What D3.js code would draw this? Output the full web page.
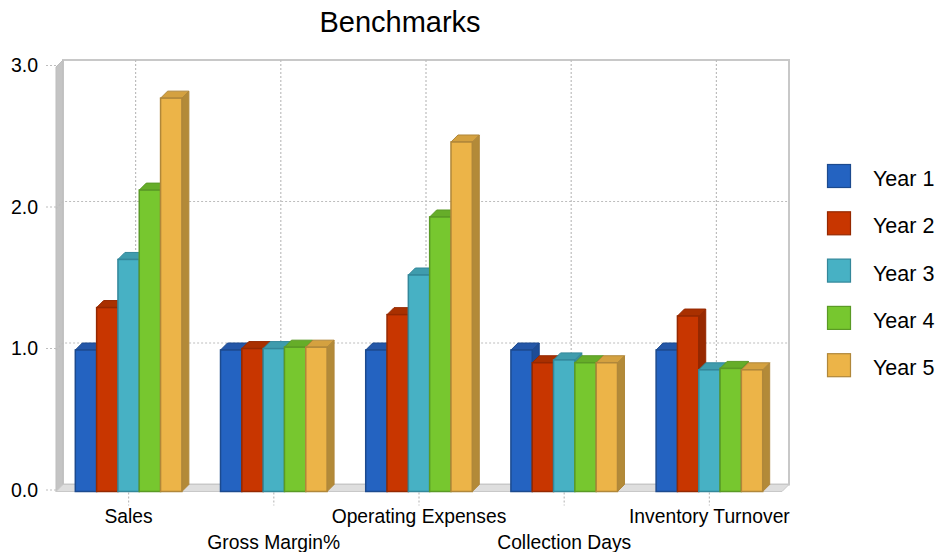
<!DOCTYPE html>
<html>
<head>
<meta charset="utf-8">
<script src="https://cdn.jsdelivr.net/npm/d3@7/dist/d3.min.js"></script>
<style>
  html, body { margin: 0; padding: 0; background: #fff; }
  svg { display: block; font-family: "Liberation Sans", Arial, sans-serif; }
</style>
</head>
<body>
<svg id="chart" width="939" height="552"></svg>
<script>
// Benchmark ratios per category, one array per year
const categories = ["Sales", "Gross Margin%", "Operating Expenses", "Collection Days", "Inventory Turnover"];
const seriesNames = ["Year 1", "Year 2", "Year 3", "Year 4", "Year 5"];
const year1 = [1.00, 1.00, 1.00, 1.00, 1.00];
const year2 = [1.30, 1.01, 1.25, 0.91, 1.24];
const year3 = [1.64, 1.01, 1.53, 0.93, 0.86];
const year4 = [2.13, 1.02, 1.94, 0.91, 0.87];
const year5 = [2.78, 1.02, 2.47, 0.91, 0.86];
const yTicks = [0, 1, 2, 3];

const seriesValues = [year1, year2, year3, year4, year5];
const frontColors = ["#2463C1", "#C83600", "#47B1C4", "#77C72F", "#ECB448"];
const sideColors  = ["#1D4C96", "#982900", "#3A8B9B", "#5C9B24", "#B38A38"];
const topColors   = ["#2457A8", "#A93000", "#3F9CAD", "#66AD29", "#D4A140"];
const edgeColors  = ["#1C4A8E", "#952800", "#33879A", "#5A9A25", "#B0873A"];

const svg = d3.select("#chart");

// 3D depth offset of the plot box
const dx = 7, dy = 7;
const x0 = 56, x1 = 782;

const x = d3.scaleBand().domain(categories).range([x0, x1]).padding(0);
const inner = d3.scaleBand().domain(seriesNames)
  .range([-x.bandwidth() * 0.367, x.bandwidth() * 0.367]).padding(0);
const y = d3.scaleLinear().domain([0, 3]).range([491.5, 67]);  // front plane
const yb = v => y(v) - dy;                                       // back wall

// Title
svg.append("text")
  .attr("x", 400).attr("y", 32)
  .attr("text-anchor", "middle")
  .attr("font-size", 29)
  .attr("fill", "#000")
  .text("Benchmarks");

const g = svg.append("g");

// Back wall
g.append("rect")
  .attr("x", x0 + dx).attr("y", yb(3))
  .attr("width", x1 - x0).attr("height", yb(0) - yb(3))
  .attr("fill", "#fff")
  .attr("stroke", "#C8C8C8").attr("stroke-width", 2);

// Left wall
g.append("polygon")
  .attr("points", [[x0, y(3)], [x0 + dx, yb(3)], [x0 + dx, yb(0)], [x0, y(0)]].join(" "))
  .attr("fill", "#C4C4C4").attr("stroke", "#BDBDBD").attr("stroke-width", 1);

// Floor
g.append("polygon")
  .attr("points", [[x0, y(0)], [x0 + dx, yb(0)], [x1 + dx, yb(0)], [x1, y(0)]].join(" "))
  .attr("fill", "#DEDEDE").attr("stroke", "#C8C8C8").attr("stroke-width", 1);

// Horizontal gridlines on the back wall and across the left wall
yTicks.filter(v => v > 0 && v < 3).forEach(v => {
  g.append("path")
    .attr("d", `M${x0},${y(v)}L${x0 + dx},${yb(v)}L${x1 + dx},${yb(v)}`)
    .attr("fill", "none")
    .attr("stroke", "#BDBDBD").attr("stroke-width", 1.2)
    .attr("stroke-dasharray", "2,2");
});

// Vertical gridlines on the back wall
categories.forEach(c => {
  const cx = x(c) + x.bandwidth() / 2;
  g.append("line")
    .attr("x1", cx + dx).attr("x2", cx + dx)
    .attr("y1", yb(3)).attr("y2", yb(0))
    .attr("stroke", "#BDBDBD").attr("stroke-width", 1.2)
    .attr("stroke-dasharray", "2,2");
  // tick below the floor
  g.append("line")
    .attr("x1", cx).attr("x2", cx)
    .attr("y1", y(0) + 1).attr("y2", y(0) + 14)
    .attr("stroke", "#BDBDBD").attr("stroke-width", 1.2)
    .attr("stroke-dasharray", "2,2");
});

// Y ticks and labels
yTicks.forEach(v => {
  g.append("line")
    .attr("x1", x0 - 10).attr("x2", x0)
    .attr("y1", y(v) - 1.5).attr("y2", y(v) - 1.5)
    .attr("stroke", "#BDBDBD").attr("stroke-width", 1.2)
    .attr("stroke-dasharray", "2,2");
  g.append("text")
    .attr("x", 38).attr("y", y(v) - 1.5)
    .attr("dy", "0.35em")
    .attr("text-anchor", "end")
    .attr("font-size", 19.5)
    .attr("fill", "#000")
    .text(d3.format(".1f")(v));
});

// Bars (front face, side, top), drawn left to right
const bars = g.append("g");
categories.forEach((c, ci) => {
  const cx = x(c) + x.bandwidth() / 2;
  seriesNames.forEach((s, si) => {
    const v = seriesValues[si][ci];
    const bx = cx + inner(s);
    const bw = inner.bandwidth();
    const yt = y(v), y0 = y(0);
    const bar = bars.append("g");
    // side face
    bar.append("polygon")
      .attr("points", [[bx + bw, yt], [bx + bw + dx, yt - dy], [bx + bw + dx, y0 - dy], [bx + bw, y0]].join(" "))
      .attr("fill", sideColors[si]).attr("stroke", edgeColors[si]).attr("stroke-width", 1)
      .attr("stroke-linejoin", "round");
    // top face
    bar.append("polygon")
      .attr("points", [[bx, yt], [bx + dx, yt - dy], [bx + bw + dx, yt - dy], [bx + bw, yt]].join(" "))
      .attr("fill", topColors[si]).attr("stroke", edgeColors[si]).attr("stroke-width", 1)
      .attr("stroke-linejoin", "round");
    // front face
    bar.append("rect")
      .attr("x", bx).attr("y", yt)
      .attr("width", bw).attr("height", y0 - yt)
      .attr("fill", frontColors[si])
      .attr("stroke", edgeColors[si]).attr("stroke-width", 1.5);
  });
});

// Category labels, staggered on two rows
categories.forEach((c, ci) => {
  const cx = x(c) + x.bandwidth() / 2;
  g.append("text")
    .attr("x", cx).attr("y", ci % 2 === 0 ? 523 : 549)
    .attr("text-anchor", "middle")
    .attr("font-size", 19.3)
    .attr("fill", "#000")
    .text(c);
});

// Legend
const legend = svg.append("g");
seriesNames.forEach((s, si) => {
  const ly = 164.5 + si * 47.3;
  legend.append("rect")
    .attr("x", 827.5).attr("y", ly)
    .attr("width", 23).attr("height", 23)
    .attr("fill", frontColors[si])
    .attr("stroke", edgeColors[si]).attr("stroke-width", 1.2);
  legend.append("text")
    .attr("x", 873).attr("y", ly + 14)
    .attr("dy", "0.35em")
    .attr("font-size", 21.5)
    .attr("fill", "#000")
    .text(s);
});
</script>
</body>
</html>
